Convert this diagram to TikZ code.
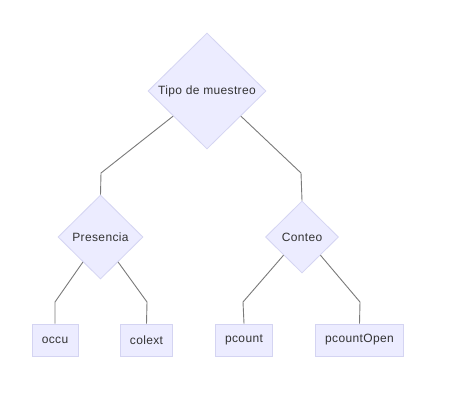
\documentclass[tikz,border=0pt]{standalone}
\usepackage{fontspec}
\setmainfont{Liberation Sans}[LetterSpace=3]
\usetikzlibrary{shapes.geometric,calc}
\definecolor{nodefill}{HTML}{ECECFF}
\definecolor{nodeline}{HTML}{D4D4F2}
\definecolor{linkcol}{HTML}{7A7A7A}
\definecolor{txt}{HTML}{333333}
\tikzset{
  decision/.style={diamond, aspect=1, fill=nodefill, draw=nodeline, line width=0.8pt,
    inner sep=0pt, font=\fontsize{12pt}{14pt}\selectfont, text=txt},
  leaf/.style={rectangle, fill=nodefill, draw=nodeline, line width=0.8pt,
    inner xsep=9.8pt, inner ysep=0pt, minimum height=32pt,
    font=\fontsize{12pt}{14pt}\selectfont, text=txt},
  link/.style={draw=linkcol, line width=0.9pt}
}
\begin{document}
\begin{tikzpicture}[x=1pt,y=-1pt]
\useasboundingbox (0,0) rectangle (452,405);
\fill[white] (0,0) rectangle (452,405);
\node[decision, minimum width=118pt, minimum height=116pt] (top) at (207,91) {Tipo de muestreo};
\node[decision, minimum width=85pt, minimum height=84pt] (pres) at (100.5,237) {Presencia};
\node[decision, minimum width=73pt, minimum height=72pt] (cont) at (302,237) {Conteo};
\node[leaf] (occu) at (55,340) {occu};
\node[leaf] (colext) at (146.5,340) {colext};
\node[leaf] (pcount) at (244,340) {pcount};
\node[leaf] (pcountopen) at (359.5,340) {pcountOpen};
\coordinate (e1) at (101,173);
\coordinate (e2) at (301,173);
\coordinate (e3) at (55,302);
\coordinate (e4) at (147,302);
\coordinate (e5) at (243,302);
\coordinate (e6) at (360,302);
\draw[link] ($(top.west)!0.43!(top.south)$) -- (e1) -- (pres.north);
\draw[link] ($(top.east)!0.43!(top.south)$) -- (e2) -- (cont.north);
\draw[link] ($(pres.west)!0.59!(pres.south)$) -- (e3) -- (occu.north);
\draw[link] ($(pres.east)!0.59!(pres.south)$) -- (e4) -- (colext.north);
\draw[link] ($(cont.west)!0.5!(cont.south)$) -- (e5) -- (pcount.north);
\draw[link] ($(cont.east)!0.5!(cont.south)$) -- (e6) -- (pcountopen.north);
\end{tikzpicture}
\end{document}
